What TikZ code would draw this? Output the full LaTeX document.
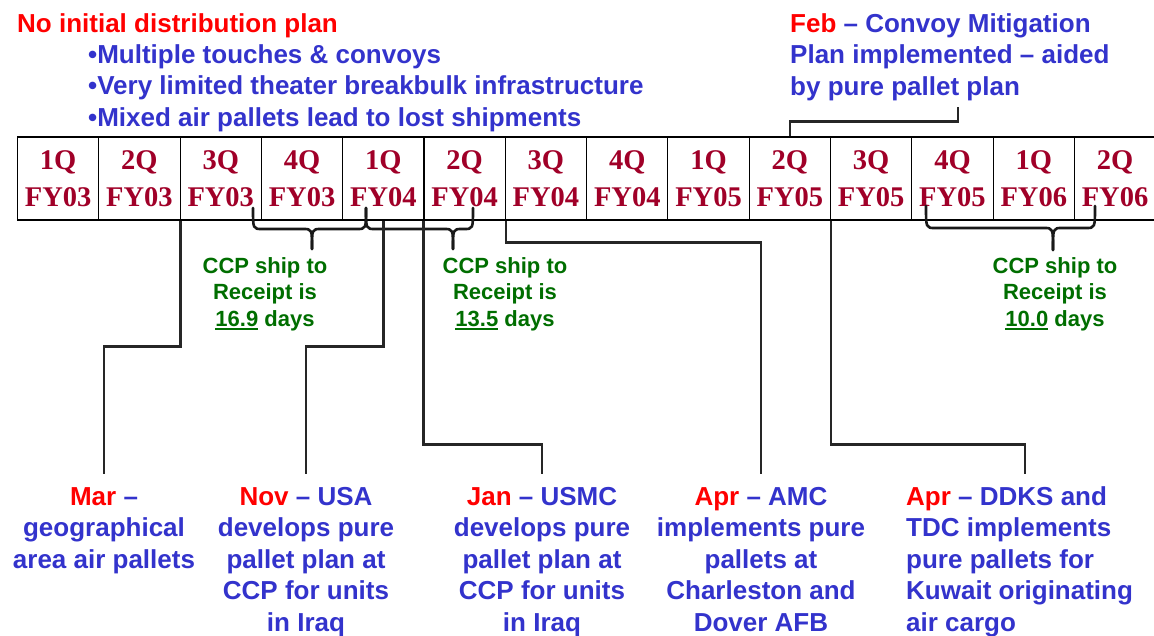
\documentclass[tikz,border=0pt]{standalone}
\usepackage{fontspec}
\setmainfont{Liberation Sans}
\newfontfamily\tnrfont{Liberation Serif}
\definecolor{tblue}{RGB}{51,51,204}
\definecolor{tred}{RGB}{255,0,0}
\definecolor{tgreen}{RGB}{0,110,0}
\definecolor{tmaroon}{RGB}{160,0,40}
\newcommand\myul[1]{\setbox0\hbox{#1}\rlap{\color{tgreen}\rule[-4pt]{\wd0}{1.6pt}}\box0\relax}
\newcommand\mybrace[6]{%
  \draw[brc] (#1,#4) .. controls (#1,#5) and (#1,#5) .. ({#1+9},#5) -- ({#3-9},#5) .. controls (#3,#5) and (#3,#5) .. (#3,#6);
  \draw[brc] (#2,#4) .. controls (#2,#5) and (#2,#5) .. ({#2-9},#5) -- ({#3+9},#5) .. controls (#3,#5) and (#3,#5) .. (#3,#6);}
\tikzset{
  lbl/.style={font=\fontsize{26}{31.5}\selectfont\bfseries, text=tblue, inner sep=0pt},
  note/.style={font=\fontsize{22}{26.5}\selectfont\bfseries, text=tgreen, inner sep=0pt, align=center, anchor=base},
  cell/.style={draw=black, line width=1.1pt, minimum width=81.3pt, minimum height=83pt, inner sep=0pt,
     font=\tnrfont\fontsize{28.5}{37}\selectfont\bfseries, text=tmaroon, align=center},
  conn/.style={draw=black!85, line width=2.4pt},
  brc/.style={draw=black!90, line width=2.6pt, line cap=round}
}
\begin{document}
\begin{tikzpicture}[x=1pt,y=-1pt]
\useasboundingbox (0,0) rectangle (1154,635);
% table
\foreach \i/\q/\f in {1/1Q/FY03,2/2Q/FY03,3/3Q/FY03,4/4Q/FY03,5/1Q/FY04,6/2Q/FY04,7/3Q/FY04,8/4Q/FY04,9/1Q/FY05,10/2Q/FY05,11/3Q/FY05,12/4Q/FY05,13/1Q/FY06,14/2Q/FY06}
  \node[cell] (q\i) at ({17.5+81.3*(\i-0.5)},178.5) {\q\\\f};
% top texts (base anchor = baseline of last line)
\node[lbl, text=tred, anchor=base west] (title) at (17,32) {No initial distribution plan};
\node[lbl, anchor=base west, align=left] (bul) at (88,126) {•Multiple touches \& convoys\\•Very limited theater breakbulk infrastructure\\•Mixed air pallets lead to lost shipments};
\node[lbl, anchor=base west, align=left] (feb) at (790,95) {{\color{tred}Feb} – Convoy Mitigation\\Plan implemented – aided\\by pure pallet plan};
% braces
\mybrace{253}{366}{312}{208}{229}{249}
\mybrace{366}{473}{453}{208}{229}{249}
\mybrace{926}{1095}{1053}{206}{228}{250}
% green notes
\node[note] (n1) at (265,326) {CCP ship to\\Receipt is\\\myul{16.9} days};
\node[note] (n2) at (505,326) {CCP ship to\\Receipt is\\\myul{13.5} days};
\node[note] (n3) at (1055,326) {CCP ship to\\Receipt is\\\myul{10.0} days};
% bottom texts
\node[lbl, anchor=base, align=center] (mar) at (104,568) {{\color{tred}Mar} –\\geographical\\area air pallets};
\node[lbl, anchor=base, align=center] (nov) at (306,631) {{\color{tred}Nov} – USA\\develops pure\\pallet plan at\\CCP for units\\in Iraq};
\node[lbl, anchor=base, align=center] (jan) at (542,631) {{\color{tred}Jan} – USMC\\develops pure\\pallet plan at\\CCP for units\\in Iraq};
\node[lbl, anchor=base, align=center] (amc) at (761,631) {{\color{tred}Apr} – AMC\\implements pure\\pallets at\\Charleston and\\Dover AFB};
\node[lbl, anchor=base west, align=left] (ddks) at (906,631) {{\color{tred}Apr} – DDKS and\\TDC implements\\pure pallets for\\Kuwait originating\\air cargo};
% connector end points
\coordinate (marEnd) at (104,474);
\coordinate (novEnd) at (306,474);
\coordinate (janEnd) at (542,474);
\coordinate (amcEnd) at (761,474);
\coordinate (ddksEnd) at (1025,474);
\coordinate (febEnd) at (958,107);
% connectors
\draw[conn] (q2.south east) -- ++(0,126) -| (marEnd);
\draw[conn] (q5.south) -- ++(0,126) -| (novEnd);
\draw[conn] (q6.south west) -- ++(0,224) -| (janEnd);
\draw[conn] (q6.south east) -- ++(0,22) -| (amcEnd);
\draw[conn] (q10.south east) -- ++(0,224) -| (ddksEnd);
\draw[conn] (q10.north) -- ++(0,-15) -| (febEnd);
\end{tikzpicture}
\end{document}
